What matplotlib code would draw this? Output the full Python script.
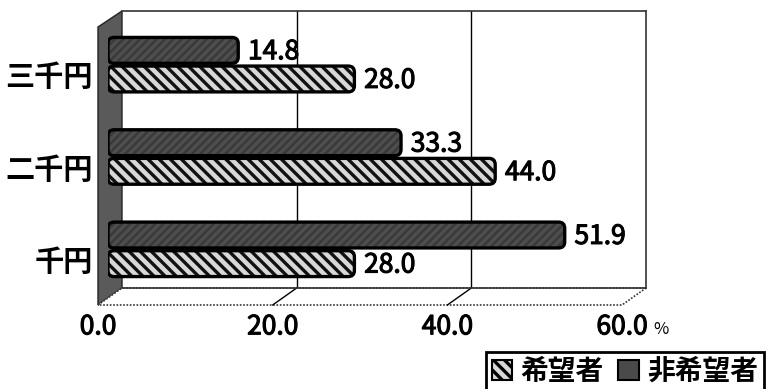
import numpy as np
import matplotlib
matplotlib.use('Agg')
import matplotlib.pyplot as plt
from matplotlib import patches
import matplotlib.patheffects as pe

plt.rcParams['font.family'] = ['Noto Sans CJK JP', 'DejaVu Sans']
plt.rcParams['hatch.linewidth'] = 2.4

# data ------------------------------------------------------------
categories = ['千円', '二千円', '三千円']
kibou = [28.0, 44.0, 28.0]       # 希望者
hikibou = [51.9, 33.3, 14.8]     # 非希望者
series_names = ['希望者', '非希望者']
xticks = [0, 20, 40, 60]
xticklabels = ['0.0', '20.0', '40.0', '60.0']

W, H = 771, 389
fig = plt.figure(figsize=(W / 100, H / 100), dpi=100)
fig.patch.set_facecolor('white')

# slightly heavier digits (scanned Excel look)
thick = [pe.withStroke(linewidth=0.8, foreground='k')]


def rect(l, t, r, b):
    # pixel box (left, top, right, bottom) -> figure fraction
    return [l / W, 1 - b / H, (r - l) / W, (b - t) / H]


# pseudo 3D box: left wall, floor ------------------------------------
deco = fig.add_axes([0, 0, 1, 1])
deco.set_xlim(0, W)
deco.set_ylim(H, 0)
deco.axis('off')

deco.add_patch(patches.Polygon([(98, 27), (122, 11), (122, 288), (98, 305)],
                               closed=True, fc='#5a5a5a', ec='#222222', lw=1))
deco.add_patch(patches.Polygon([(98, 305), (122, 288), (646, 288), (622, 305)],
                               closed=True, fc='white', ec='#333333', lw=1.2,
                               ls=(0, (1, 1))))
sx = 524 / 60.0
for v in xticks[1:-1]:
    deco.plot([122 + v * sx, 98 + v * sx], [288, 305], color='k', lw=1)

# back wall with gridlines
back = fig.add_axes(rect(122, 11, 646, 288))
back.set_xlim(0, 60)
back.set_ylim(0, 1)
back.set_xticks(xticks[1:-1])
back.set_yticks([])
back.tick_params(length=0, labelbottom=False)
back.grid(axis='x', color='k', lw=1)
back.patch.set_alpha(0)
back.spines['left'].set_visible(False)
for s in ['top', 'right', 'bottom']:
    back.spines[s].set(color='#333333', lw=1.2, ls=(0, (1, 1)))

# bars (mid depth) -----------------------------------------------------
mid = fig.add_axes(rect(108, 18.5, 108 + 60 * 8.8, 295.5))
mid.set_xlim(0, 60)
mid.set_ylim(-0.5, 2.5)
mid.axis('off')

y = np.arange(len(categories))
bh = 0.28
off = 0.155
b1 = mid.barh(y - off, kibou, height=bh)
b2 = mid.barh(y + off, hikibou, height=bh)

asp = (3 / 277.0) / (60 / 528.0)


def cylinder(bar, fc, hatch, hc):
    x0, y0 = bar.get_xy()
    w, h = bar.get_width(), bar.get_height()
    bar.set_visible(False)
    style = 'round,pad=0,rounding_size=0.7'
    mid.add_patch(patches.FancyBboxPatch((x0, y0), w, h, boxstyle=style,
                                         mutation_aspect=asp, fc=fc, ec=hc,
                                         lw=0, hatch=hatch))
    mid.add_patch(patches.FancyBboxPatch((x0, y0), w, h, boxstyle=style,
                                         mutation_aspect=asp, fc='none',
                                         ec='k', lw=2.4))


for bar in b1:
    cylinder(bar, '#d8d8d8', '\\\\\\', '#111111')
for bar in b2:
    cylinder(bar, '#3a3a3a', '////', '#4e4e4e')

for vals, o in [(kibou, -off), (hikibou, off)]:
    for yi, v in zip(y, vals):
        mid.annotate(f'{v:.1f}', (v, yi + o), xytext=(7, -1),
                     textcoords='offset points', ha='left', va='center',
                     fontsize=19, path_effects=thick)

# front axis: tick labels ----------------------------------------------
front = fig.add_axes(rect(98, 28, 622, 305))
front.set_xlim(0, 60)
front.set_ylim(-0.5, 2.5)
front.patch.set_alpha(0)
for s in front.spines.values():
    s.set_visible(False)
front.set_xticks(xticks, xticklabels, fontsize=19)
front.set_yticks(y, categories, fontsize=21, fontweight='bold')
front.tick_params(axis='x', length=0, pad=6)
front.tick_params(axis='y', length=0, pad=4)
for t in front.get_xticklabels():
    t.set_path_effects(thick)

deco.text(653, 330, '%', fontsize=12, ha='left', va='center')

# legend
h1 = patches.Patch(fc='#d8d8d8', ec='k', hatch='\\\\\\', lw=1.5)
h2 = patches.Patch(fc='#4a4a4a', ec='k', lw=1.5)
leg = fig.legend([h1, h2], series_names, loc='upper left',
                 bbox_to_anchor=(486 / W, 1 - 352 / H), ncol=2,
                 prop={'size': 20, 'weight': 'bold'}, frameon=True,
                 fancybox=False, edgecolor='k', framealpha=1,
                 handlelength=0.75, handleheight=0.75, handletextpad=0.3,
                 columnspacing=0.5, borderpad=0.2, borderaxespad=0)
leg.get_frame().set_linewidth(2)

fig.savefig('out.png', dpi=100)
